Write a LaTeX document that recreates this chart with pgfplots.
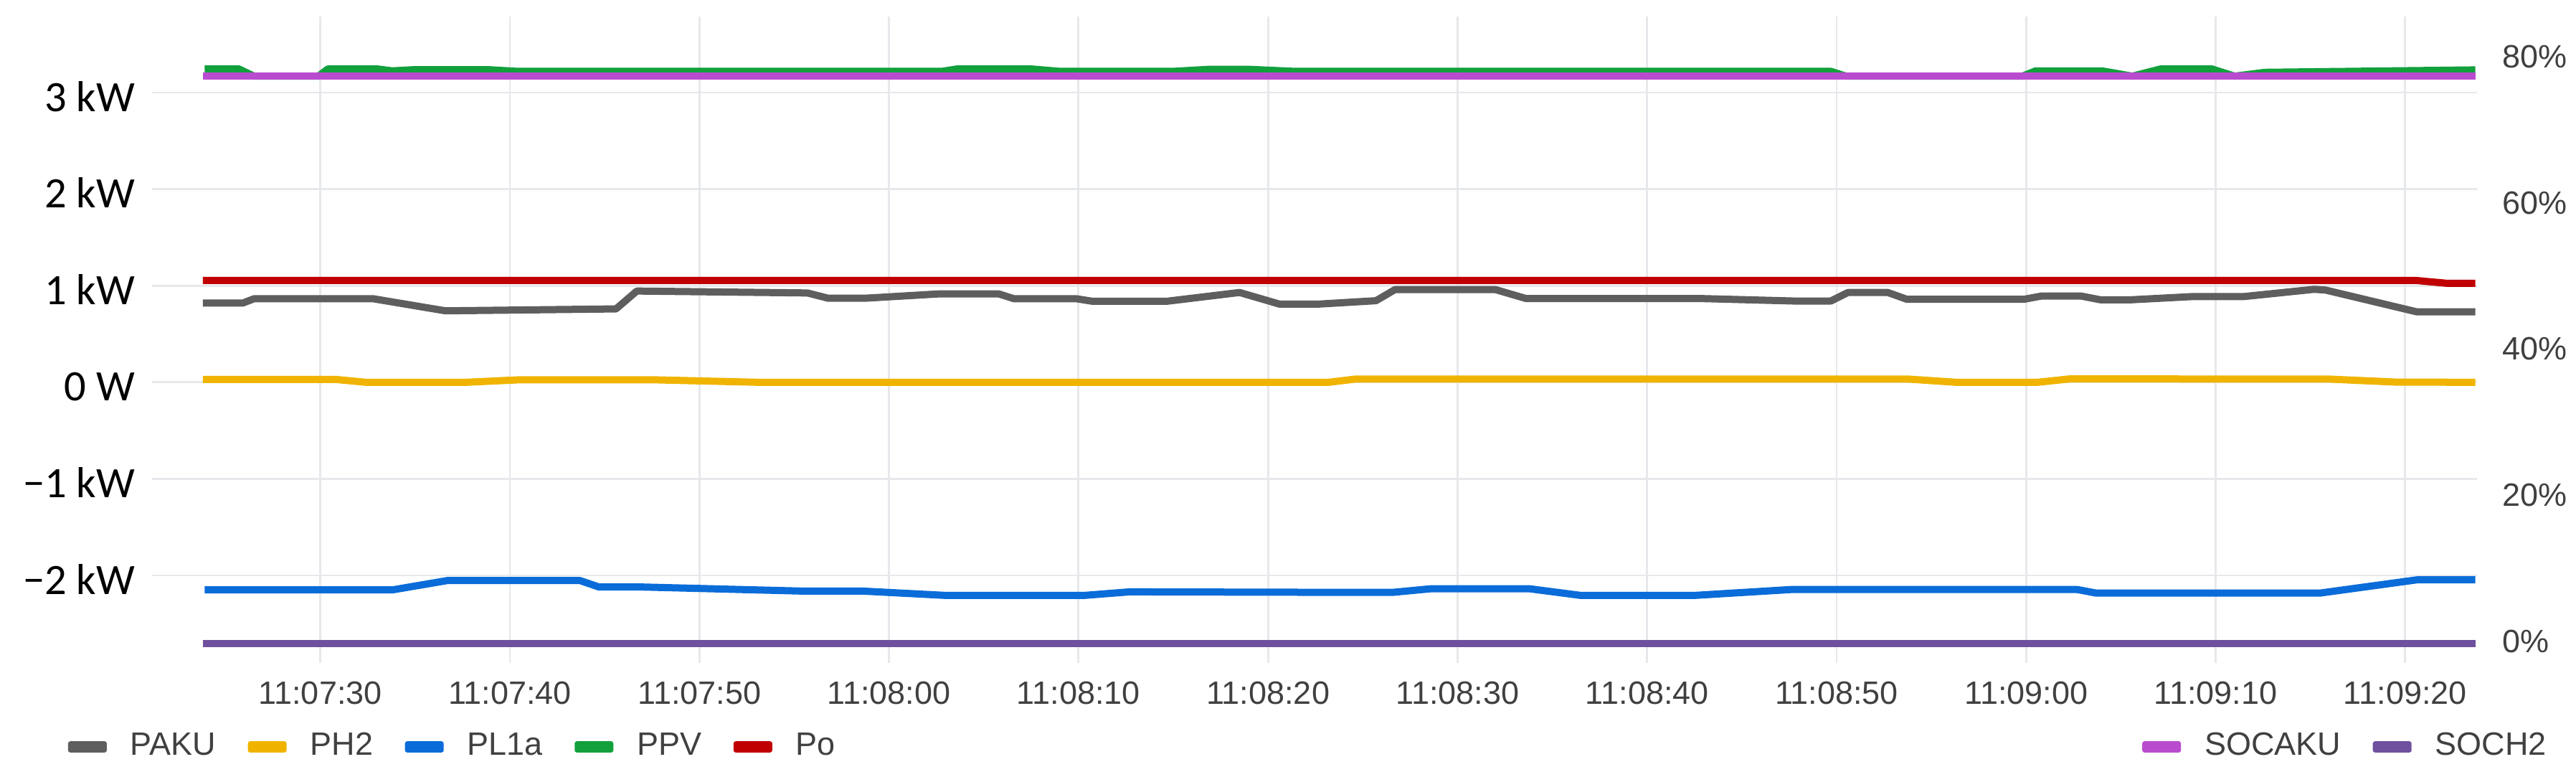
\documentclass[border=0pt]{standalone}
\usepackage{fontspec}
\setmainfont{Liberation Sans}
\newfontfamily\carlito{Carlito}
\usepackage{pgfplots}
\pgfplotsset{compat=1.18}

\definecolor{cPAKU}{HTML}{5E5E5E}
\definecolor{cPH2}{HTML}{F0B400}
\definecolor{cPL}{HTML}{0A6CD8}
\definecolor{cPPV}{HTML}{12A03C}
\definecolor{cPo}{HTML}{C00000}
\definecolor{cSOCAKU}{HTML}{B94BCF}
\definecolor{cSOCH}{HTML}{6F509E}
\definecolor{tickgray}{HTML}{404040}
\definecolor{gridgray}{HTML}{E6E8EB}

% time axis: seconds after 11:07:00
\pgfplotsset{
  common/.style={
    scale only axis, width=648.4pt, height=180.2pt,
    xmin=21.12, xmax=143.79,
    axis line style={draw=none},
    major tick length=0pt,
    every axis plot/.append style={line width=2pt, line join=round, mark=none, sharp plot},
    legend image code/.code={\fill[##1, draw=none, rounded corners=0.6pt] (0pt,-1.56pt) rectangle (10.8pt,1.56pt);},
    legend columns=-1,
    legend style={draw=none, fill=none, inner sep=0pt, outer sep=0pt, anchor=west,
      font=\fontsize{9}{10}\selectfont, text=tickgray,
      nodes={inner sep=0pt},
      /tikz/every odd column/.append style={column sep=6.6pt},
      /tikz/every even column/.append style={column sep=8.9pt}},
  },
}

\begin{document}
\begin{tikzpicture}
\useasboundingbox (-42.4pt,-31.8pt) rectangle (676pt,184.8pt);

\begin{axis}[common,
  ymin=-2.906, ymax=3.788,
  ytick={-2,-1,0,1,2,3},
  yticklabels={−2 kW,−1 kW,0 W,1 kW,2 kW,3 kW},
  xtick={30,40,...,140},
  xticklabels={11:07:30,11:07:40,11:07:50,11:08:00,11:08:10,11:08:20,11:08:30,11:08:40,11:08:50,11:09:00,11:09:10,11:09:20},
  xmajorgrids, ymajorgrids,
  grid style={gridgray, line width=0.55pt},
  yticklabel style={font=\carlito\fontsize{12.1}{14}\selectfont, text=black, anchor=base east, inner sep=0pt, xshift=-4.6pt, yshift=-5.2pt},
  xticklabel style={font=\fontsize{9}{10}\selectfont, text=tickgray, anchor=base, inner sep=0pt, yshift=-11.5pt},
  legend style={at={(-0.0361,-0.1299)}},
]
% PAKU
\addplot[cPAKU] coordinates {
(23.8,0.82) (25.9,0.82) (26.5,0.865) (32.8,0.865) (36.6,0.74) (45.6,0.76)
(46.7,0.945) (55.7,0.925) (56.8,0.87) (58.7,0.87) (62.6,0.915) (65.8,0.915)
(66.6,0.865) (69.9,0.865) (70.7,0.84) (74.7,0.84) (78.5,0.93) (80.6,0.81)
(82.7,0.81) (85.7,0.845) (86.7,0.96) (92.0,0.96) (93.6,0.868) (102.7,0.868)
(107.7,0.842) (109.7,0.842) (110.6,0.93) (112.7,0.93) (113.7,0.86) (119.9,0.86)
(120.8,0.893) (122.9,0.893) (123.9,0.855) (125.6,0.855) (128.8,0.888) (131.5,0.888)
(135.2,0.963) (135.8,0.955) (140.6,0.73) (143.7,0.73)
};
\addlegendentry{PAKU}
% PH2
\addplot[cPH2] coordinates {
(23.8,0.03) (30.8,0.03) (32.4,0.0) (37.7,0.0) (40.4,0.025) (47.8,0.025)
(53.1,0.0) (83.2,0.0) (84.6,0.033) (113.8,0.033) (116.3,0.0) (120.6,0.0)
(122.3,0.035) (136.0,0.033) (139.5,0.002) (143.7,0.0)
};
\addlegendentry{PH2}
% PL1a
\addplot[cPL] coordinates {
(23.9,-2.15) (33.8,-2.15) (36.7,-2.053) (43.7,-2.053) (44.7,-2.12) (47.0,-2.12)
(55.6,-2.163) (58.7,-2.163) (63.0,-2.207) (70.3,-2.207) (72.7,-2.17) (83.1,-2.175)
(86.6,-2.175) (88.6,-2.138) (93.8,-2.138) (96.5,-2.207) (102.5,-2.207) (107.6,-2.146)
(122.7,-2.146) (123.7,-2.183) (135.5,-2.183) (140.6,-2.046) (143.7,-2.046)
};
\addlegendentry{PL1a}
% PPV
\addplot[cPPV] coordinates {
(23.9,3.245) (25.7,3.245) (26.5,3.17) (29.9,3.17) (30.4,3.245) (33.0,3.245)
(33.8,3.225) (35.0,3.238) (38.8,3.238) (40.4,3.22) (62.8,3.22) (63.6,3.245)
(67.5,3.245) (69.0,3.22) (75.0,3.22) (76.8,3.24) (79.1,3.24) (81.4,3.22)
(109.7,3.22) (110.5,3.17) (119.8,3.17) (120.5,3.225) (124.0,3.225) (125.6,3.17)
(127.1,3.245) (129.8,3.245) (131.0,3.17) (132.6,3.21) (143.7,3.235)
};
\addlegendentry{PPV}
% Po
\addplot[cPo] coordinates {
(23.8,1.054) (140.6,1.054) (142.2,1.025) (143.7,1.025)
};
\addlegendentry{Po}
\end{axis}

\begin{axis}[common,
  axis y line*=right, axis x line=none, xtick=\empty,
  ymin=-2.69, ymax=85.8,
  ytick={0,20,40,60,80},
  yticklabels={0\%,20\%,40\%,60\%,80\%},
  yticklabel style={font=\fontsize{9}{10}\selectfont, text=tickgray, anchor=base west, inner sep=0pt, xshift=6.8pt, yshift=-2.5pt},
  legend style={at={(0.856,-0.1299)}},
]
\addplot[cSOCAKU] coordinates {(23.8,77.6) (143.7,77.6)};
\addlegendentry{SOCAKU}
\addplot[cSOCH] coordinates {(23.8,0) (143.7,0)};
\addlegendentry{SOCH2}
\end{axis}
\end{tikzpicture}
\end{document}
